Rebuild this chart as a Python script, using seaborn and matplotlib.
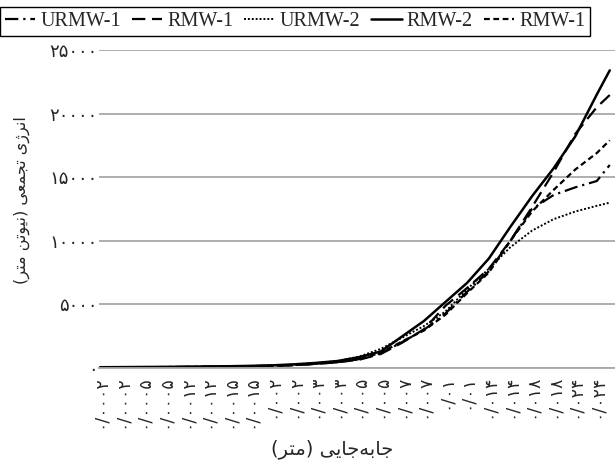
import numpy as np
import pandas as pd
import matplotlib
matplotlib.use("Agg")
import matplotlib.pyplot as plt
import seaborn as sns

# ---------------- data ----------------
cycle = [0, 1, 2, 3, 4, 5, 6, 7, 8, 9, 10, 11, 12, 13, 14, 15, 16, 17, 18, 19,
         20, 21, 22, 23, 23.6]

urmw1 = [45, 55, 65, 75, 85, 100, 120, 145, 175, 240, 340, 470, 700, 1150, 2050,
         3000, 4300, 6000, 7600, 10000, 12500, 13600, 14200, 14700, 15960]
rmw1_a = [40, 50, 60, 70, 80, 90, 110, 130, 160, 220, 320, 450, 650, 1100, 2000,
          3050, 4900, 6300, 7800, 10000, 12650, 15400, 18400, 20500, 21460]
urmw2 = [50, 60, 70, 80, 90, 110, 130, 160, 200, 270, 380, 540, 900, 1500, 2400,
         3300, 4450, 6200, 7800, 9500, 10800, 11700, 12300, 12750, 13000]
rmw2 = [60, 70, 80, 90, 100, 120, 140, 170, 210, 290, 400, 550, 850, 1300, 2500,
        3700, 5200, 6700, 8600, 11100, 13500, 15700, 18200, 21500, 23400]
rmw1_b = [40, 50, 60, 70, 80, 95, 115, 140, 170, 230, 330, 460, 700, 1200, 2100,
          2950, 4200, 5900, 7500, 10000, 12300, 14000, 15600, 16900, 17900]

series_names = ["URMW-1", "RMW-1", "URMW-2", "RMW-2", "RMW-1"]

x_tick_labels = ["۰/۰۰۰۲", "۰/۰۰۰۲", "۰/۰۰۰۵", "۰/۰۰۰۵", "۰/۰۰۱۲", "۰/۰۰۱۲",
                 "۰/۰۰۱۵", "۰/۰۰۱۵", "۰/۰۰۲", "۰/۰۰۲", "۰/۰۰۳", "۰/۰۰۳",
                 "۰/۰۰۵", "۰/۰۰۵", "۰/۰۰۷", "۰/۰۰۷", "۰/۰۱", "۰/۰۱",
                 "۰/۰۱۴", "۰/۰۱۴", "۰/۰۱۸", "۰/۰۱۸", "۰/۰۲۴", "۰/۰۲۴"]
y_ticks = [0, 5000, 10000, 15000, 20000, 25000]
y_tick_labels = ["۰", "۵۰۰۰", "۱۰۰۰۰", "۱۵۰۰۰", "۲۰۰۰۰", "۲۵۰۰۰"]

y_title = "انرژی تجمعی (نیوتن متر)"
x_title = "جابه\u200cجایی (متر)"

# ---------------- simple Persian shaping (presentation forms) ----------------
FORMS = {
    'ا': ('\uFE8D', '\uFE8E', None, None),
    'ب': ('\uFE8F', '\uFE90', '\uFE91', '\uFE92'),
    'ت': ('\uFE95', '\uFE96', '\uFE97', '\uFE98'),
    'ج': ('\uFE9D', '\uFE9E', '\uFE9F', '\uFEA0'),
    'ر': ('\uFEAD', '\uFEAE', None, None),
    'ژ': ('\uFB8A', '\uFB8B', None, None),
    'ع': ('\uFEC9', '\uFECA', '\uFECB', '\uFECC'),
    'م': ('\uFEE1', '\uFEE2', '\uFEE3', '\uFEE4'),
    'ن': ('\uFEE5', '\uFEE6', '\uFEE7', '\uFEE8'),
    'ه': ('\uFEE9', '\uFEEA', '\uFEEB', '\uFEEC'),
    'و': ('\uFEED', '\uFEEE', None, None),
    'ی': ('\uFBFC', '\uFBFD', '\uFBFE', '\uFBFF'),
}


def shape_rtl(s):
    out = []
    for i, c in enumerate(s):
        if c == '\u200c':
            continue
        if c not in FORMS:
            out.append(c)
            continue
        prev = s[i - 1] if i > 0 else None
        nxt = s[i + 1] if i + 1 < len(s) else None
        cp = prev in FORMS and FORMS[prev][2] is not None
        cn = nxt in FORMS and FORMS[c][2] is not None
        iso, fin, ini, med = FORMS[c]
        if cp and cn:
            out.append(med)
        elif cp:
            out.append(fin)
        elif cn:
            out.append(ini)
        else:
            out.append(iso)
    vis = ''.join(reversed(out))
    return vis.translate(str.maketrans('()', ')('))


# ---------------- figure ----------------
sns.set_theme(style="white")
plt.rcParams['font.family'] = ['DejaVu Sans']

W, H = 615, 462
fig = plt.figure(figsize=(W / 100, H / 100), dpi=100)
ax = fig.add_axes([99 / W, (H - 368) / H, (W - 99) / W, 318 / H])

styles = [
    dict(linestyle=(0, (6, 2.2, 1, 2.2)), lw=1.6),    # URMW-1 dash-dot
    dict(linestyle=(0, (6, 3)), lw=1.6),              # RMW-1 long dash
    dict(linestyle=(0, (1, 1)), lw=1.4),              # URMW-2 dotted
    dict(linestyle='-', lw=1.8),                      # RMW-2 solid
    dict(linestyle=(0, (2.6, 1.6)), lw=1.6),          # RMW-1 short dash
]
all_series = [urmw1, rmw1_a, urmw2, rmw2, rmw1_b]

for name, vals, st in zip(series_names, all_series, styles):
    df = pd.DataFrame({"cycle": cycle, "energy": vals})
    sns.lineplot(data=df, x="cycle", y="energy", ax=ax, color="black",
                 label=name, **st)

ax.set_xlim(-1 / 21.6, (W - 100) / 21.6)
ax.set_ylim(0, 25000)
ax.set_xticks(range(len(x_tick_labels)))
ax.set_xticklabels(x_tick_labels, rotation=90, fontsize=12.5,
                   family=['DejaVu Sans'])
ax.set_yticks(y_ticks)
ax.set_yticklabels(y_tick_labels, fontsize=13, family=['DejaVu Sans'])
ax.tick_params(axis='x', length=0, pad=5)
ax.tick_params(axis='y', length=0, pad=1)
ax.set_xlabel("")
ax.set_ylabel("")

ax.grid(axis='y', color='#a8a8a8', lw=1.3)
ax.grid(axis='x', visible=False)
for sp in ['left', 'right', 'top']:
    ax.spines[sp].set_visible(False)
ax.spines['bottom'].set_color('#a8a8a8')
ax.spines['bottom'].set_linewidth(1.3)
ax.set_axisbelow(True)

# legend
handles, labels = ax.get_legend_handles_labels()
ax.get_legend().remove()
leg = fig.legend(handles, series_names, loc='upper left',
                 bbox_to_anchor=(0.0, 1 - 7 / H), ncol=5, frameon=True,
                 fancybox=False, edgecolor='black', framealpha=1,
                 handlelength=1.5, handletextpad=0.25, columnspacing=0.55,
                 borderpad=0.25, borderaxespad=0.0,
                 prop={'family': 'Liberation Serif', 'size': 14.5})
leg.get_frame().set_linewidth(1.0)

fig.text(22 / W, 1 - 200 / H, shape_rtl(y_title), rotation=90, ha='center',
         va='center', fontsize=11.5, family=['DejaVu Sans'])
fig.text(332 / W, 1 - 449 / H, shape_rtl(x_title), ha='center', va='center',
         fontsize=14, family=['DejaVu Sans'])

fig.savefig("out.png", dpi=100)
